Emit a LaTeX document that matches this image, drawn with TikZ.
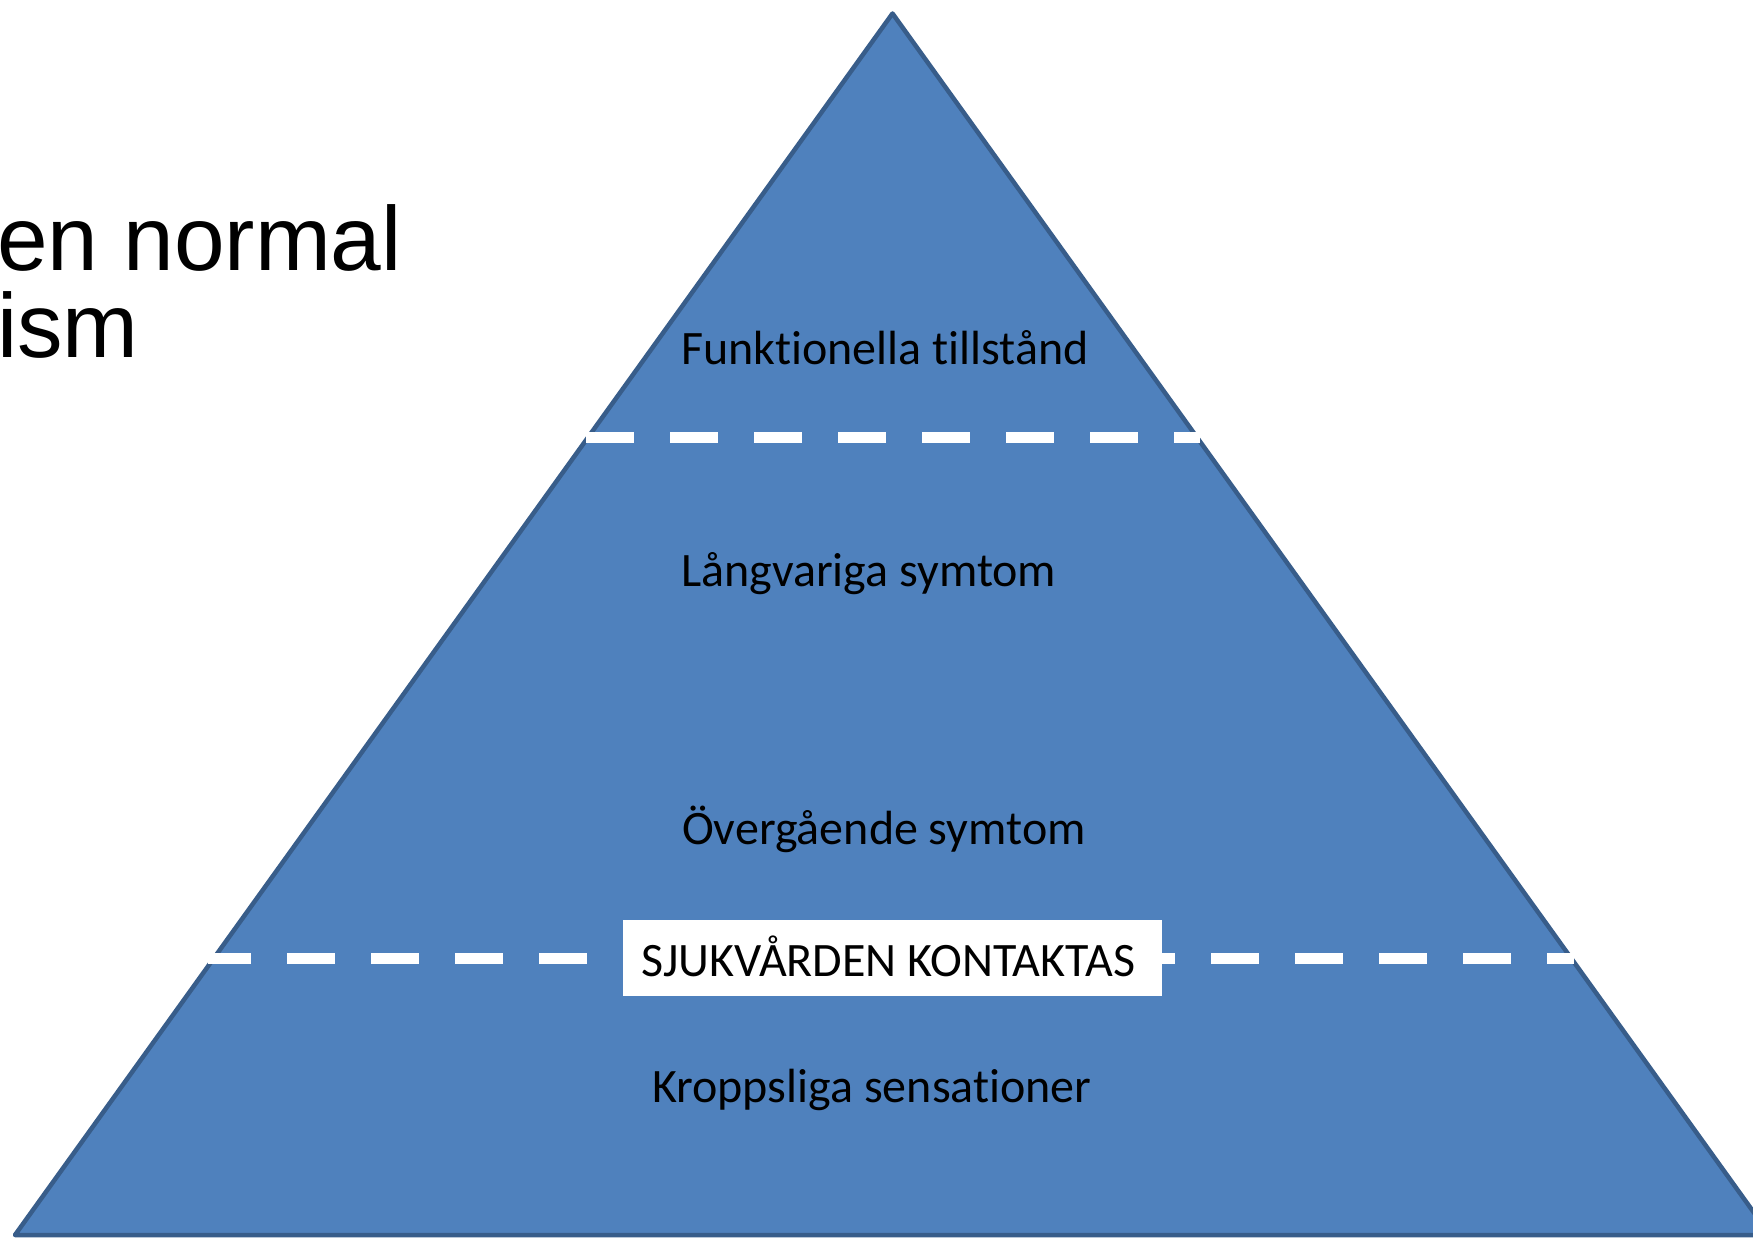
\documentclass[tikz,border=0pt]{standalone}
\usepackage{fontspec}
\setmainfont{Carlito}[RawFeature={-liga;-clig;-dlig}]
\newfontfamily\titlefont{Liberation Sans}
\definecolor{pyrfill}{RGB}{79,129,189}
\definecolor{pyrline}{RGB}{56,93,138}
\begin{document}
\begin{tikzpicture}[x=1pt,y=-1pt,
  label/.style={anchor=base west,inner sep=0pt,font=\fontsize{48}{56}\selectfont,text=black},
  titletext/.style={anchor=base west,inner sep=0pt,font=\titlefont\fontsize{91}{100}\selectfont,text=black},
  dashline/.style={draw=white,line width=11pt,dash pattern=on 48pt off 36pt}]
\useasboundingbox (0,0) rectangle (1753,1239);
\begin{scope}
\clip (0,0) rectangle (1753,1239);
% pyramid
\coordinate (apex) at (892.5,13.5);
\coordinate (bl) at (15,1235);
\coordinate (br) at (1770,1235);
\draw[fill=pyrfill,draw=pyrline,line width=4.5pt,line join=round] (apex) -- (br) -- (bl) -- cycle;
% dashed lines
\coordinate (d1a) at (586,437);
\coordinate (d1b) at (1200,437);
\draw[dashline] (d1a) -- (d1b);
\coordinate (d2a) at (208,958);
\coordinate (d2b) at (1574,958);
\draw[dashline,dash phase=5pt] (d2a) -- (d2b);
% box
\fill[white] (623,920) rectangle (1162,996);
\node[label] (sjuk) at (641,976.5) {SJUKVÅRDEN KONTAKTAS};
% labels
\node[label] (funk) at (681,364) {Funktionella tillstånd};
\node[label] (lang) at (681,586) {Långvariga symtom};
\node[label] (overg) at (682,844) {Övergående symtom};
\node[label] (kropp) at (652,1102) {Kroppsliga sensationer};
% title
\node[titletext] (t1) at (-3,270) {en normal};
\node[titletext] (t2) at (-3,357) {ism};
\end{scope}
\end{tikzpicture}
\end{document}
